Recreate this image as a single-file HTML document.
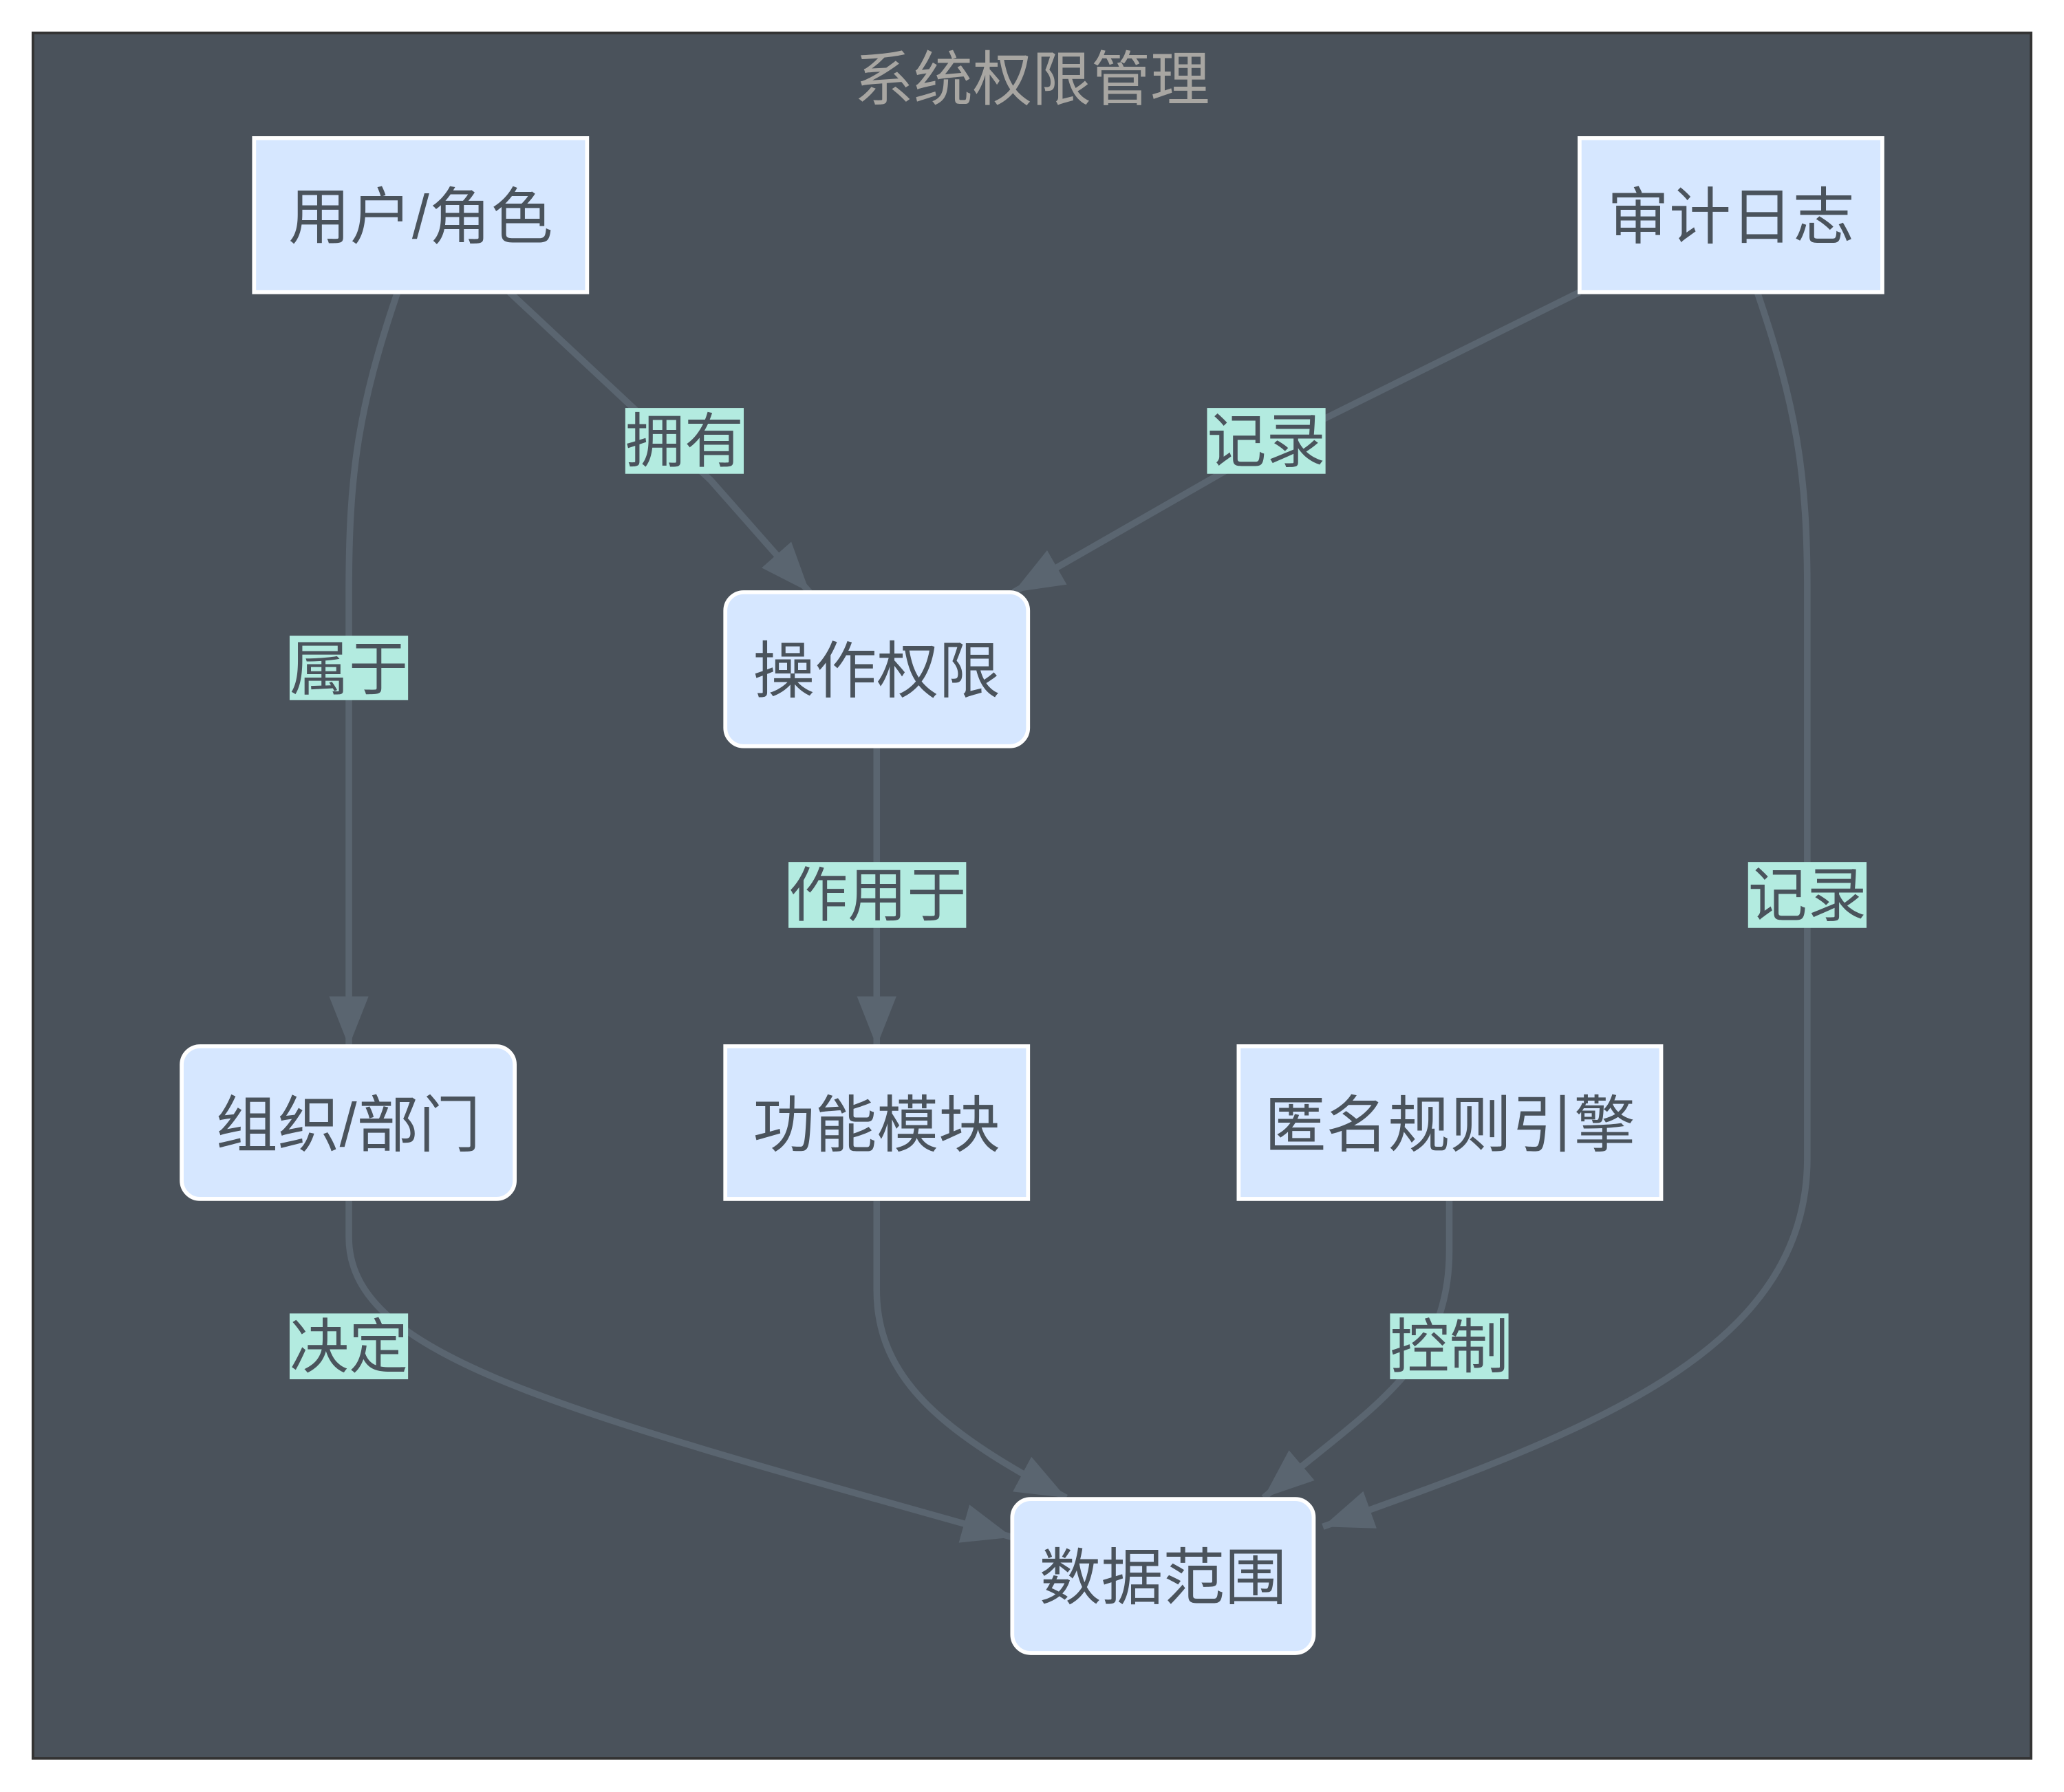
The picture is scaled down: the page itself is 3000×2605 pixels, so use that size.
<!DOCTYPE html>
<html><head><meta charset="utf-8"><style>
html,body{margin:0;padding:0;background:#fff;}
svg{display:block;}
text{font-family:"Liberation Sans","Noto Sans CJK SC",sans-serif;}
</style></head><body>
<svg width="3000" height="2605" viewBox="0 0 1568 1361.6" xmlns="http://www.w3.org/2000/svg">
<defs>
<marker id="a" markerUnits="userSpaceOnUse" markerWidth="44" markerHeight="44" refX="38" refY="15" orient="auto">
<path d="M0,0 L38,15 L0,30 Z" fill="#5a6570"/>
</marker>
</defs>
<rect x="25" y="25" width="1518" height="1311" fill="#4a525b" stroke="#333" stroke-width="2"/>
<text x="784" y="76" font-size="45" fill="#a8a6a2" text-anchor="middle">系统权限管理</text>
<g fill="none" stroke="#5a6570" stroke-width="5">
<path d="M302,222 C272,310 265,360 265,450 L265,795" marker-end="url(#a)"/>
<path d="M387,222 L540,365 L615,450" marker-end="url(#a)"/>
<path d="M1200,222 L962,340 L770,450" marker-end="url(#a)"/>
<path d="M1335,222 C1365,310 1373,360 1373,450 L1373,880 C1373,1030 1200,1090 1005,1160" marker-end="url(#a)"/>
<path d="M666,567 L666,795" marker-end="url(#a)"/>
<path d="M265,911 L265,940 C265,1030 420,1070 769,1168" marker-end="url(#a)"/>
<path d="M666,911 L666,980 C666,1050 720,1090 810,1138" marker-end="url(#a)"/>
<path d="M1101,911 L1101,950 C1101,1040 1040,1070 960,1138" marker-end="url(#a)"/>
</g>
<g fill="#d6e7ff" stroke="#fff" stroke-width="3">
<rect x="193" y="105" width="253" height="117"/>
<rect x="1200" y="105" width="230" height="117"/>
<rect x="551" y="450" width="230" height="117" rx="14"/>
<rect x="138" y="795" width="253" height="116" rx="14"/>
<rect x="551" y="795" width="230" height="116"/>
<rect x="941" y="795" width="321" height="116"/>
<rect x="769" y="1139" width="229" height="117" rx="14"/>
</g>
<g font-size="47" fill="#4a535c" text-anchor="middle">
<text x="319.5" y="181">用户/角色</text>
<text x="1315" y="181">审计日志</text>
<text x="666" y="526">操作权限</text>
<text x="264.5" y="871">组织/部门</text>
<text x="666" y="871">功能模块</text>
<text x="1101.5" y="871">匿名规则引擎</text>
<text x="883.5" y="1215">数据范围</text>
</g>
<g fill="#b3ebe0">
<rect x="220" y="483" width="90" height="49"/>
<rect x="475" y="310" width="90" height="50"/>
<rect x="917" y="310" width="90" height="50"/>
<rect x="1328" y="655" width="90" height="50"/>
<rect x="599" y="655" width="135" height="50"/>
<rect x="220" y="998" width="90" height="50"/>
<rect x="1056" y="998" width="90" height="50"/>
</g>
<g font-size="45" fill="#4a535c" text-anchor="middle">
<text x="265" y="524">属于</text>
<text x="520" y="351">拥有</text>
<text x="962" y="351">记录</text>
<text x="1373" y="696">记录</text>
<text x="666.5" y="696">作用于</text>
<text x="265" y="1039">决定</text>
<text x="1101" y="1039">控制</text>
</g>
</svg>
</body></html>
